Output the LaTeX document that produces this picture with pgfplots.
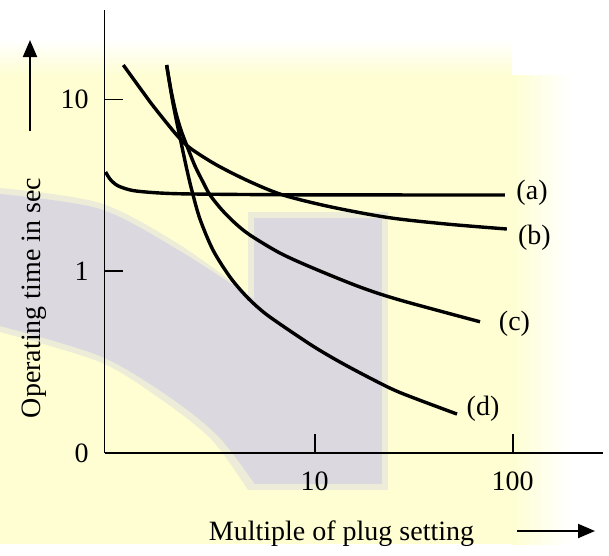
\documentclass[border=0pt]{standalone}
\usepackage{fontspec}
\setmainfont{Liberation Serif}
\usepackage{pgfplots}
\pgfplotsset{compat=1.18}
\usetikzlibrary{arrows.meta}
\definecolor{wmYellow}{RGB}{254,254,210}
\definecolor{wmGray}{RGB}{219,217,223}

\begin{document}
\fontsize{14}{16}\selectfont
\begin{tikzpicture}
  % page laid out in reference pixels: 1 px = 0.5pt, y downwards
  \begin{scope}[x=0.5pt,y=-0.5pt]
    \useasboundingbox (0,0) rectangle (609,544);
    % faint watermark behind the chart
    \fill[wmYellow] (0,75) rectangle (512,544);
    \shade[top color=white,bottom color=wmYellow] (0,40) rectangle (512,75.5);
    \shade[left color=wmYellow,right color=white] (511.5,75) rectangle (570,544);
    \fill[wmGray!50!wmYellow] plot[smooth] coordinates {(0,188) (100,203) (180,245) (248,294)}
      -- (248,490) -- plot[smooth] coordinates {(248,490) (212,440) (162,400) (100,362) (0,332)} -- cycle;
    \fill[wmGray!50!wmYellow] (248,212) rectangle (388,490);
    \fill[wmGray] plot[smooth] coordinates {(0,194) (100,209) (180,251) (254,299)}
      -- (254,483) -- plot[smooth] coordinates {(254,483) (218,436) (168,396) (100,356) (0,326)} -- cycle;
    \fill[wmGray] (254,218) rectangle (382,484);
  \end{scope}

  \begin{axis}[
      at={(52.25pt,-226.5pt)}, anchor=south west,
      width=249.25pt, height=221.5pt, scale only axis,
      xmode=log, ymode=log,
      xmin=0.868, xmax=285.8, ymin=0.0869, ymax=33.25,
      axis lines=left, axis line style={-, line width=0.85pt},
      xtick={10,100}, xticklabels={10,100},
      ytick={0.0869,1,10}, yticklabels={0,1,10},
      xminorticks=false, yminorticks=false,
      tick align=inside, major tick length=9.5pt,
      tick style={black, line width=0.85pt},
      ticklabel style={font=\fontsize{14}{16}\selectfont, inner sep=0pt},
      yticklabel style={xshift=-7.75pt},
      xticklabel style={yshift=-9pt},
      /pgf/number format/assume math mode=true,
      clip=false,
    ]
    % (a) definite time
    \addplot[black, line width=1.7pt, smooth, tension=0.5] coordinates {
      (0.879,3.779) (0.925,3.439) (0.998,3.175) (1.102,3.027) (1.252,2.928)
      (1.654,2.850) (2.457,2.812) (8.43,2.782) (91.4,2.775)};
    % (b) inverse definite minimum time
    \addplot[black, line width=1.7pt, smooth, tension=0.5] coordinates {
      (1.080,15.89) (1.362,10.98) (1.561,8.89) (2.009,6.21) (2.346,5.215)
      (3.199,4.151) (4.712,3.317) (6.917,2.775) (11.95,2.371) (23.46,2.051)
      (46.37,1.879) (93.4,1.758)};
    % (c) very inverse
    \addplot[black, line width=1.7pt, smooth, tension=0.5] coordinates {
      (1.788,15.89) (1.880,11.36) (1.993,8.34) (2.112,6.64) (2.265,5.357)
      (2.486,4.096) (2.729,3.304) (2.960,2.775) (3.403,2.269) (3.958,1.905)
      (4.712,1.621) (6.677,1.273) (9.80,1.041) (16.93,0.807) (26.97,0.677)
      (68.4,0.506)};
    % (d) extremely inverse
    \addplot[black, line width=1.7pt, smooth, tension=0.5] coordinates {
      (1.788,15.89) (1.924,9.54) (2.112,5.651) (2.265,3.880) (2.401,2.928)
      (2.634,2.010) (3.064,1.326) (3.734,0.923) (4.535,0.708) (5.482,0.579)
      (6.677,0.491) (9.80,0.365) (13.42,0.2947) (19.03,0.2377) (26.97,0.1957)
      (52.33,0.1466)};
    \node at (axis cs:125.2,2.85) {(a)};
    \node at (axis cs:128.8,1.568) {(b)};
    \node at (axis cs:102.1,0.494) {(c)};
    \node at (axis cs:70.8,0.1568) {(d)};
  \end{axis}

  \begin{scope}[x=0.5pt,y=-0.5pt]
    \node[rotate=90, anchor=base] at (40,298) {Operating time in sec};
    \draw[line width=1pt, -{Triangle[length=8.5pt,width=7pt]}] (30,131) -- (30,40);
    \node[anchor=base] at (341.5,540) {Multiple of plug setting};
    \draw[line width=1pt, -{Triangle[length=8.5pt,width=7pt]}] (517,531) -- (595,531);
  \end{scope}
\end{tikzpicture}
\end{document}
